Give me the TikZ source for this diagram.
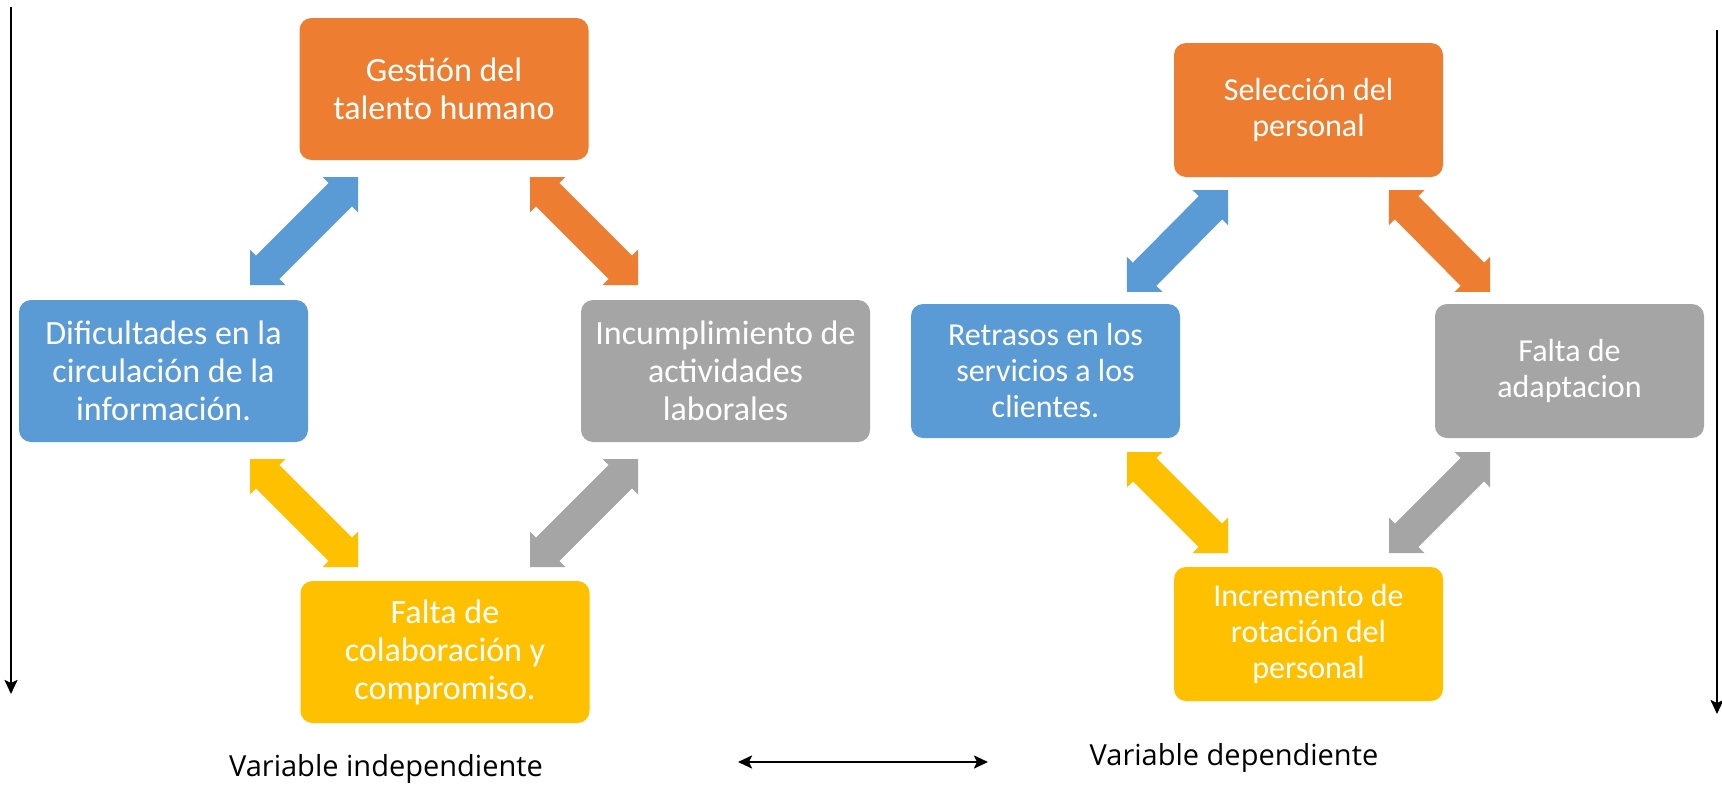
\documentclass[tikz,border=0pt]{standalone}
\usepackage{fontspec}
\setmainfont{Carlito}
\newfontfamily\labelfont{Open Sans}
\usetikzlibrary{calc,arrows.meta}
\definecolor{cOrange}{HTML}{ED7D31}
\definecolor{cBlue}{HTML}{5B9BD5}
\definecolor{cGray}{HTML}{A5A5A5}
\definecolor{cYellow}{HTML}{FFC000}
\newcommand{\fatarrow}[3]{%
  \fill[#1] (#2)
    -- ($(#2)!25pt!(#3)!25pt!90:(#3)$)
    -- ($(#2)!25pt!(#3)!16.5pt!90:(#3)$)
    -- ($(#3)!25pt!(#2)!16.5pt!-90:(#2)$)
    -- ($(#3)!25pt!(#2)!25pt!-90:(#2)$)
    -- (#3)
    -- ($(#3)!25pt!(#2)!25pt!90:(#2)$)
    -- ($(#3)!25pt!(#2)!16.5pt!90:(#2)$)
    -- ($(#2)!25pt!(#3)!16.5pt!-90:(#3)$)
    -- ($(#2)!25pt!(#3)!25pt!-90:(#3)$)
    -- cycle;}
\tikzset{
  box/.style={rounded corners=12pt, text=white, align=center, inner sep=0pt},
  bigbox/.style={box, minimum width=289pt, minimum height=142pt, font=\fontsize{34}{38}\selectfont},
  smallbox/.style={box, minimum width=269pt, minimum height=134pt, font=\fontsize{32}{36}\selectfont},
  lbl/.style={font=\labelfont\fontsize{29}{34}\selectfont, text=black, inner sep=0pt},
  thinarrow/.style={line width=2.2pt, -{Stealth[length=14pt,width=13pt,inset=3pt]}},
  thindouble/.style={line width=2.2pt, {Stealth[length=14pt,width=13pt,inset=3pt]}-{Stealth[length=14pt,width=13pt,inset=3pt]}}
}
\begin{document}
\begin{tikzpicture}[x=1pt,y=-1pt]
\useasboundingbox[fill=white] (0,0) rectangle (1722,790);
% left group
\node[bigbox, fill=cOrange] (g) at (444,89) {Gestión del\\talento humano};
\node[bigbox, fill=cBlue] (d) at (163.5,371) {Dificultades en la\\circulación de la\\información.};
\node[bigbox, fill=cGray] (inc) at (725.5,371) {Incumplimiento de\\actividades\\laborales};
\node[bigbox, fill=cYellow] (fc) at (445,652) {Falta de\\colaboración y\\compromiso.};
% right group
\node[smallbox, fill=cOrange] (s) at (1308.5,110) {Selección del\\personal};
\node[smallbox, fill=cBlue] (r) at (1045.5,371) {Retrasos en los\\servicios a los\\clientes.};
\node[smallbox, fill=cGray] (fa) at (1569.5,371) {Falta de\\adaptacion};
\node[smallbox, fill=cYellow] (ir) at (1308.5,634) {Incremento de\\rotación del\\personal};
% block arrow ends
\coordinate (b1a) at (250,285); \coordinate (b1b) at (358,177);
\coordinate (o1a) at (530,177); \coordinate (o1b) at (638,285);
\coordinate (y1a) at (250,459); \coordinate (y1b) at (358,567);
\coordinate (g1a) at (638,459); \coordinate (g1b) at (530,567);
\coordinate (b2a) at (1127,292); \coordinate (b2b) at (1228,190);
\coordinate (o2a) at (1389,190); \coordinate (o2b) at (1490,292);
\coordinate (y2a) at (1127,452); \coordinate (y2b) at (1228,553);
\coordinate (g2a) at (1490,452); \coordinate (g2b) at (1389,553);
\fatarrow{cBlue}{b1a}{b1b}
\fatarrow{cOrange}{o1a}{o1b}
\fatarrow{cYellow}{y1a}{y1b}
\fatarrow{cGray}{g1a}{g1b}
\fatarrow{cBlue}{b2a}{b2b}
\fatarrow{cOrange}{o2a}{o2b}
\fatarrow{cYellow}{y2a}{y2b}
\fatarrow{cGray}{g2a}{g2b}
% side lines
\coordinate (l1) at (11,7); \coordinate (l2) at (11,694);
\coordinate (r1) at (1717,30); \coordinate (r2) at (1717,714);
\draw[thinarrow] (l1) -- (l2);
\draw[thinarrow] (r1) -- (r2);
% labels
\node[lbl] (vi) at (386,769) {Variable independiente};
\node[lbl] (vd) at (1234,758) {Variable dependiente};
\coordinate (h1) at (738,762); \coordinate (h2) at (988,762);
\draw[thindouble] (h1) -- (h2);
\end{tikzpicture}
\end{document}
